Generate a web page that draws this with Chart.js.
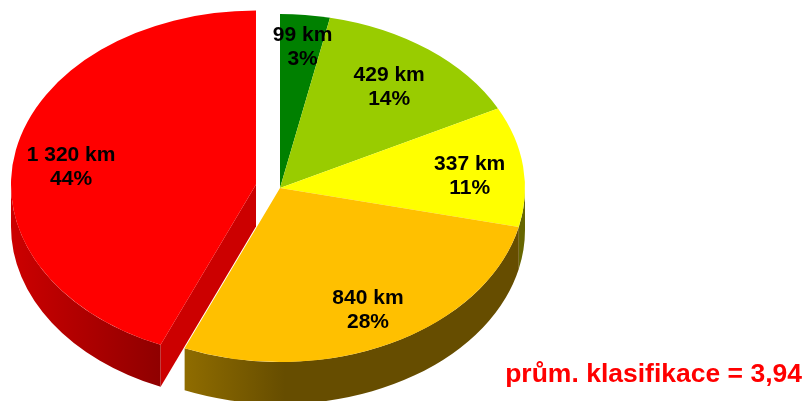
<!DOCTYPE html>
<html><head><meta charset="utf-8">
<style>html,body{margin:0;padding:0;background:#fff;overflow:hidden}#w{position:relative;width:806px;height:401px}canvas{display:block}</style>
<script src="https://cdn.jsdelivr.net/npm/chart.js@4"></script></head>
<body><div id="w"><canvas id="c" width="806" height="401"></canvas></div>
<script>
const categories = ["99 km", "429 km", "337 km", "840 km", "1 320 km"];
const kilometres = [99, 429, 337, 840, 1320];
const shares = ["3%", "14%", "11%", "28%", "44%"];
const colours = ["#008000", "#99cc00", "#ffff00", "#ffc000", "#ff0000"];
const noteText = "prům. klasifikace = 3,94";

const CX = 280, CY = 188, RX = 245, RY = 174, DEPTH = 42, R = 180;
const explode = [0, 0, 0, 0, 18]; // pull-out per slice, in the pie's unsquashed units
const labelFrac = [0.82, 0.735, 0.78, 0.78, 0.77];
const labelNudge = [[2, 1], [0, 1], [0, 5], [1, 1], [0, 9]];

const sx = RX / R, sy = RY / R;

function wallFill(ctx, i) {
  if (i === 4) {
    const g = ctx.createLinearGradient(11, 0, 161, 0);
    g.addColorStop(0, "#cc0000"); g.addColorStop(1, "#8f0000");
    return g;
  }
  if (i === 3) {
    const g = ctx.createLinearGradient(185, 0, 285, 0);
    g.addColorStop(0, "#8f6c00"); g.addColorStop(1, "#664d00");
    return g;
  }
  return "#666600";
}

const pie3d = {
  id: "pie3d",
  beforeDatasetsDraw(chart) {
    const ctx = chart.ctx, arcs = chart.getDatasetMeta(0).data;
    const baseX = chart.chartArea.left + chart.chartArea.width / 2;
    const baseY = chart.chartArea.top + chart.chartArea.height / 2;
    arcs.forEach((a, i) => {
      const s = a.startAngle, e = a.endAngle, mid = (s + e) / 2;
      const off = explode[i];
      a.x = baseX + Math.cos(mid) * off;
      a.y = baseY + Math.sin(mid) * off;
      const cx = CX + Math.cos(mid) * off * sx;
      const cy = CY + Math.sin(mid) * off * sy;
      a.$screen = {cx, cy, mid};
      const lo = Math.max(s, 0), hi = Math.min(e, Math.PI);
      if (hi > lo) {
        ctx.beginPath();
        ctx.ellipse(cx, cy, RX, RY, 0, lo, hi);
        ctx.ellipse(cx, cy + DEPTH, RX, RY, 0, hi, lo, true);
        ctx.closePath();
        ctx.fillStyle = wallFill(ctx, i);
        ctx.fill();
      }
      if (off > 0) {
        const px = cx + Math.cos(s) * RX, py = cy + Math.sin(s) * RY;
        ctx.beginPath();
        ctx.moveTo(cx, cy); ctx.lineTo(px, py);
        ctx.lineTo(px, py + DEPTH); ctx.lineTo(cx, cy + DEPTH);
        ctx.closePath();
        ctx.fillStyle = "#cc0000";
        ctx.fill();
      }
    });
    ctx.save();
    ctx.translate(CX, CY);
    ctx.scale(sx, sy);
    ctx.translate(-baseX, -baseY);
  },
  afterDatasetsDraw(chart) {
    const ctx = chart.ctx, arcs = chart.getDatasetMeta(0).data;
    ctx.restore();
    ctx.save();
    ctx.fillStyle = "#000";
    ctx.font = "bold 21px 'Liberation Sans', Arial, sans-serif";
    ctx.textAlign = "center";
    ctx.textBaseline = "middle";
    arcs.forEach((a, i) => {
      const {cx, cy, mid} = a.$screen;
      const x = cx + Math.cos(mid) * RX * labelFrac[i] + labelNudge[i][0];
      const y = cy + Math.sin(mid) * RY * labelFrac[i] + labelNudge[i][1];
      ctx.fillText(categories[i], x, y - 12);
      ctx.fillText(shares[i], x, y + 12);
    });
    ctx.fillStyle = "#ff0000";
    ctx.font = "bold 26.5px 'Liberation Sans', Arial, sans-serif";
    ctx.textAlign = "right";
    ctx.fillText(noteText, 802, 375);
    ctx.restore();
  }
};

new Chart(document.getElementById("c"), {
  type: "pie",
  data: {
    labels: categories,
    datasets: [{
      data: kilometres,
      backgroundColor: colours,
      borderWidth: 0,
      clip: false
    }]
  },
  options: {
    responsive: false,
    animation: false,
    radius: R,
    layout: {padding: 0},
    plugins: {legend: {display: false}, tooltip: {enabled: false}, title: {display: false}}
  },
  plugins: [pie3d]
});
</script></body></html>
